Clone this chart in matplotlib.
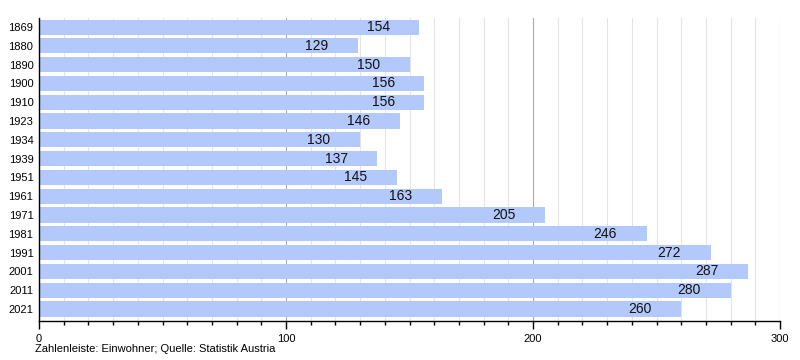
import matplotlib.pyplot as plt
from matplotlib.ticker import MultipleLocator

plt.rcParams['font.family'] = ['Liberation Sans', 'DejaVu Sans']

years = ['1869', '1880', '1890', '1900', '1910', '1923', '1934', '1939',
         '1951', '1961', '1971', '1981', '1991', '2001', '2011', '2021']
population = [154, 129, 150, 156, 156, 146, 130, 137, 145, 163, 205, 246,
              272, 287, 280, 260]

fig = plt.figure(figsize=(8, 3.6), dpi=100)
ax = fig.add_axes([0.04875, 0.1083, 0.92625, 0.8417])

pos = list(range(len(years)))
ax.barh(pos, population, height=0.8, color='#b3c9fb', zorder=2)

for p, v in zip(pos, population):
    ax.text(v - 12, p, str(v), ha='right', va='center', fontsize=10,
            color='#111111', zorder=3)

ax.set_xlim(0, 300)
ax.set_ylim(len(years) - 0.36, -0.48)
ax.set_yticks(pos)
ax.set_yticklabels(years, fontsize=8)
ax.tick_params(axis='y', length=0, pad=4)

ax.xaxis.set_major_locator(MultipleLocator(100))
ax.xaxis.set_minor_locator(MultipleLocator(10))
ax.tick_params(axis='x', which='major', length=6, width=1, labelsize=8, pad=3)
ax.tick_params(axis='x', which='minor', length=3, width=1)
ax.grid(axis='x', which='minor', color='#e4e4e4', lw=0.8, zorder=0)
ax.grid(axis='x', which='major', color='#aaaaaa', lw=0.8, zorder=0)

for s in ['top', 'right']:
    ax.spines[s].set_visible(False)
ax.spines['left'].set_linewidth(1)
ax.spines['bottom'].set_linewidth(1)

fig.text(0.04375, 0.03, 'Zahlenleiste: Einwohner; Quelle: Statistik Austria',
         fontsize=8, ha='left', va='center')

fig.savefig('out.png')
